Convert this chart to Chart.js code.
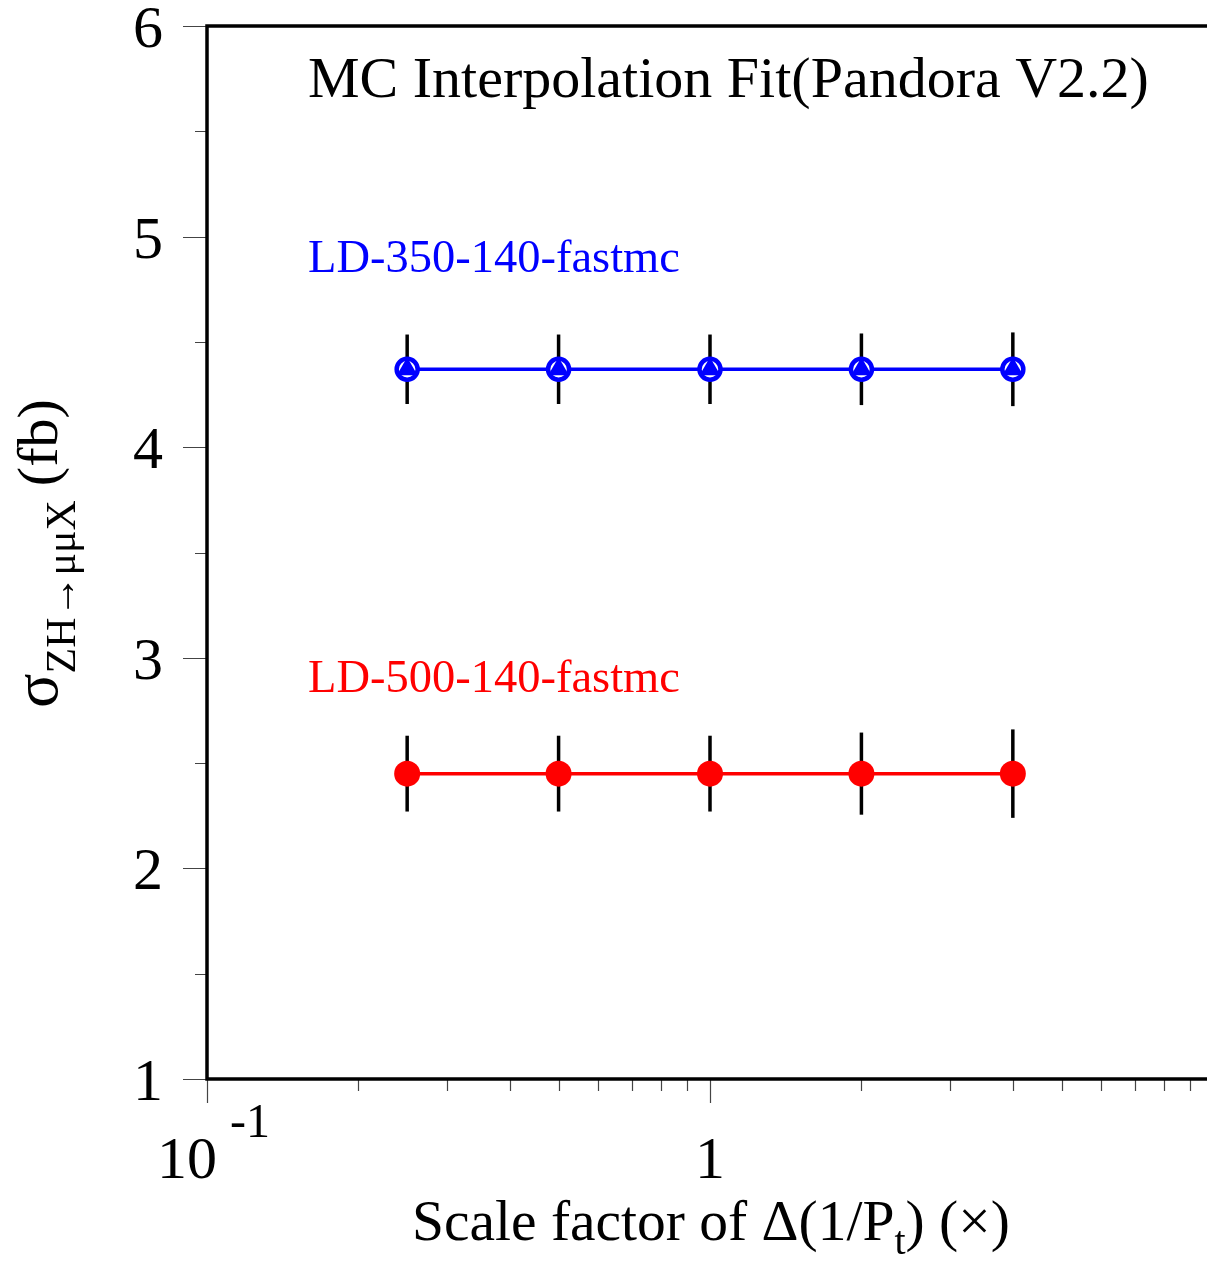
<!DOCTYPE html>
<html>
<head>
<meta charset="utf-8">
<script src="https://cdn.jsdelivr.net/npm/chart.js@4.4.1/dist/chart.umd.min.js"></script>
<style>
  html, body { margin: 0; padding: 0; background: #fff; overflow: hidden; }
  #sigmaChart { display: block; }
</style>
</head>
<body>
<canvas id="sigmaChart" width="1220" height="1262"></canvas>
<script>
// scale factor applied to the momentum resolution
const scaleFactors = [0.25, 0.5, 1, 2, 4];

// fitted cross sections (fb) and their errors
const ld350Values = [4.37, 4.37, 4.37, 4.37, 4.37];
const ld350Errors = [0.165, 0.165, 0.165, 0.17, 0.175];
const ld500Values = [2.45, 2.45, 2.45, 2.45, 2.45];
const ld500Errors = [0.18, 0.18, 0.18, 0.195, 0.21];

// axis ticks
const yMajorTicks = [1, 2, 3, 4, 5, 6];
const yMinorTicks = [1.5, 2.5, 3.5, 4.5, 5.5];
const xMajorTicks = [0.1, 1, 10];
const xMinorTicks = [0.2, 0.3, 0.4, 0.5, 0.6, 0.7, 0.8, 0.9, 2, 3, 4, 5, 6, 7, 8, 9];

const SERIF = '"Liberation Serif", "DejaVu Serif", serif';

// the frame runs a few pixels past the right edge of the window
const FRAME_LEFT = 207, FRAME_RIGHT = 1213, FRAME_TOP = 26, FRAME_BOTTOM = 1079;

function toPoints(values) {
    return scaleFactors.map((x, i) => ({ x: x, y: values[i] }));
}

// pin the plot area regardless of the canvas size
const fixedArea = {
    id: 'fixedArea',
    beforeLayout(chart) {
        chart.options.layout.padding = {
            left: FRAME_LEFT,
            top: FRAME_TOP,
            right: chart.width - FRAME_RIGHT,
            bottom: chart.height - FRAME_BOTTOM
        };
    }
};

// vertical error bars, drawn under the markers
const errorBars = {
    id: 'errorBars',
    beforeDatasetsDraw(chart) {
        const ctx = chart.ctx;
        const xs = chart.scales.x, ys = chart.scales.y;
        ctx.save();
        ctx.strokeStyle = '#000';
        ctx.lineWidth = 3.5;
        [[ld350Values, ld350Errors], [ld500Values, ld500Errors]].forEach(([vals, errs]) => {
            scaleFactors.forEach((sf, i) => {
                const px = xs.getPixelForValue(sf);
                ctx.beginPath();
                ctx.moveTo(px, ys.getPixelForValue(vals[i] + errs[i]));
                ctx.lineTo(px, ys.getPixelForValue(vals[i] - errs[i]));
                ctx.stroke();
            });
        });
        ctx.restore();
    }
};

// frame, ticks and all text
const frameAndText = {
    id: 'frameAndText',
    afterDraw(chart) {
        const ctx = chart.ctx;
        const xs = chart.scales.x, ys = chart.scales.y;
        const a = chart.chartArea;
        ctx.save();

        // ticks
        ctx.strokeStyle = '#444';
        ctx.lineWidth = 1.2;
        ctx.beginPath();
        yMajorTicks.forEach(v => {
            const py = Math.round(ys.getPixelForValue(v)) + 0.5;
            ctx.moveTo(a.left - 24, py); ctx.lineTo(a.left, py);
        });
        yMinorTicks.forEach(v => {
            const py = Math.round(ys.getPixelForValue(v)) + 0.5;
            ctx.moveTo(a.left - 12, py); ctx.lineTo(a.left, py);
        });
        xMajorTicks.forEach(v => {
            const px = Math.round(xs.getPixelForValue(v)) + 0.5;
            ctx.moveTo(px, a.bottom); ctx.lineTo(px, a.bottom + 24);
        });
        xMinorTicks.forEach(v => {
            const px = Math.round(xs.getPixelForValue(v)) + 0.5;
            ctx.moveTo(px, a.bottom); ctx.lineTo(px, a.bottom + 12);
        });
        ctx.stroke();

        // frame
        ctx.strokeStyle = '#000';
        ctx.lineWidth = 3.5;
        ctx.strokeRect(a.left, a.top, a.right - a.left, a.bottom - a.top);

        // y tick labels
        ctx.fillStyle = '#000';
        ctx.font = '60px ' + SERIF;
        ctx.textAlign = 'right';
        ctx.textBaseline = 'alphabetic';
        yMajorTicks.forEach(v => {
            ctx.fillText(String(v), 163, ys.getPixelForValue(v) + 21);
        });

        // x tick labels
        ctx.textAlign = 'center';
        ctx.fillText('1', xs.getPixelForValue(1), 1178);
        ctx.textAlign = 'left';
        ctx.fillText('10', 157, 1178);
        ctx.font = '48px ' + SERIF;
        ctx.fillText('-1', 230, 1137);

        // plot title
        ctx.font = '58px ' + SERIF;
        ctx.fillText('MC Interpolation Fit(Pandora V2.2)', 308, 97);

        // series labels
        ctx.font = '46.5px ' + SERIF;
        ctx.fillStyle = '#0000ff';
        ctx.fillText('LD-350-140-fastmc', 308, 272);
        ctx.fillStyle = '#ff0000';
        ctx.fillText('LD-500-140-fastmc', 308, 692);

        // x axis title
        ctx.fillStyle = '#000';
        ctx.font = '57.5px ' + SERIF;
        let x = 412;
        const base = 1240;
        const part1 = 'Scale factor of \u0394(1/P';
        ctx.fillText(part1, x, base);
        x += ctx.measureText(part1).width;
        ctx.font = '40px ' + SERIF;
        ctx.fillText('t', x, base + 14);
        x += ctx.measureText('t').width;
        ctx.font = '57.5px ' + SERIF;
        ctx.fillText(') (\u00d7)', x, base);

        // y axis title, rotated
        ctx.save();
        ctx.translate(57, 708);
        ctx.rotate(-Math.PI / 2);
        let y = 0;
        ctx.font = '64px ' + SERIF;
        ctx.fillText('\u03c3', y, 0);
        y += ctx.measureText('\u03c3').width;
        ctx.font = '42px ' + SERIF;
        const sub = 'ZH\u2192\u03bc\u03bcX';
        ctx.fillText(sub, y, 18);
        y += ctx.measureText(sub).width + 14;
        ctx.font = '58px ' + SERIF;
        ctx.fillText('(fb)', y, 0);
        ctx.restore();

        ctx.restore();
    }
};

new Chart(document.getElementById('sigmaChart').getContext('2d'), {
    type: 'line',
    data: {
        datasets: [
            {
                label: 'LD-350-140-fastmc',
                data: toPoints(ld350Values),
                borderColor: '#0000ff',
                borderWidth: 3.5,
                pointStyle: 'circle',
                pointRadius: 10.5,
                pointBorderWidth: 4.5,
                pointBackgroundColor: '#ffffff',
                pointBorderColor: '#0000ff',
                order: 2
            },
            {
                label: 'LD-350-140-fastmc marker',
                data: toPoints(ld350Values),
                showLine: false,
                pointStyle: 'triangle',
                pointRadius: 12,
                pointBorderWidth: 0,
                pointBackgroundColor: '#0000ff',
                order: 1
            },
            {
                label: 'LD-500-140-fastmc',
                data: toPoints(ld500Values),
                borderColor: '#ff0000',
                borderWidth: 3.5,
                pointStyle: 'circle',
                pointRadius: 13,
                pointBorderWidth: 0,
                pointBackgroundColor: '#ff0000',
                order: 3
            }
        ]
    },
    options: {
        responsive: false,
        maintainAspectRatio: false,
        animation: false,
        layout: { padding: 0, autoPadding: false },
        plugins: { legend: { display: false }, tooltip: { enabled: false } },
        scales: {
            x: { type: 'logarithmic', min: 0.1, max: 10, display: false },
            y: { type: 'linear', min: 1, max: 6, display: false }
        }
    },
    plugins: [fixedArea, errorBars, frameAndText]
});
</script>
</body>
</html>
